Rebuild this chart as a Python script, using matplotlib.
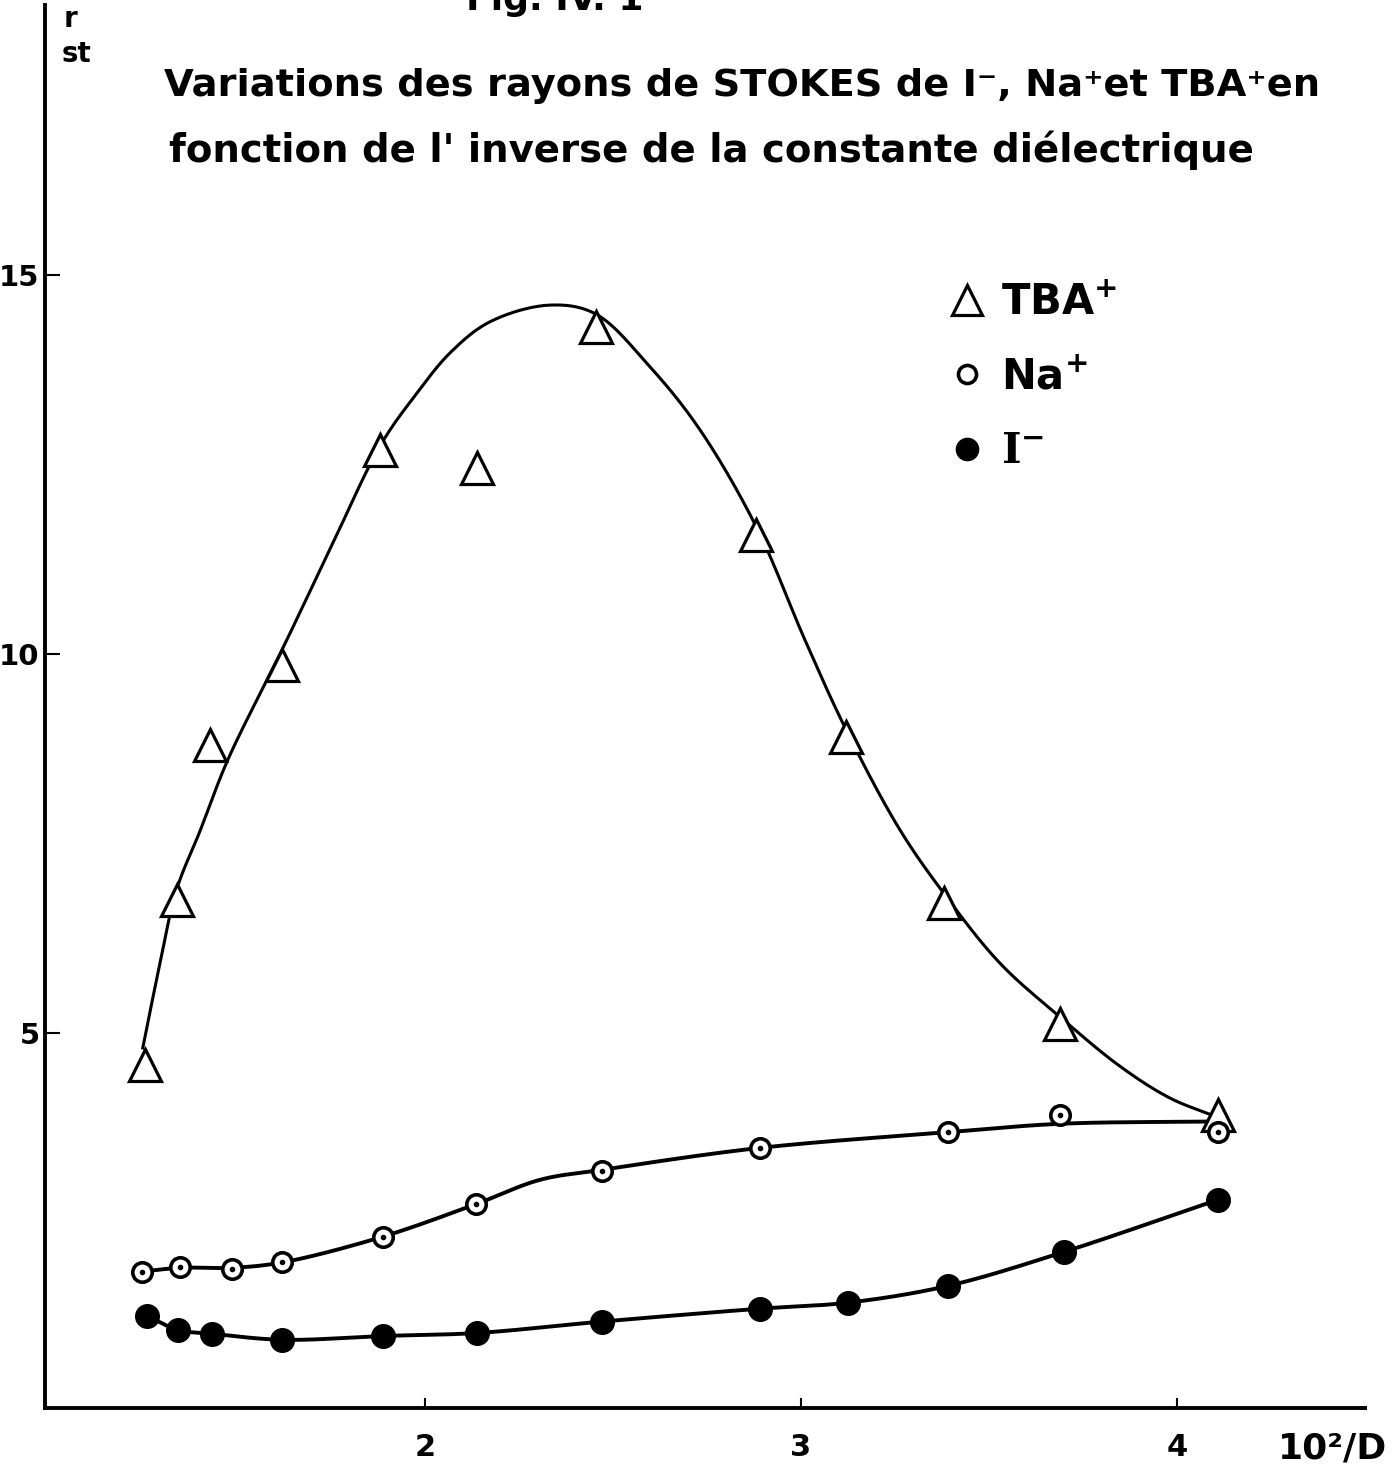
import matplotlib
matplotlib.use("Agg")
from matplotlib import pyplot as plt
import numpy as np

# measured points, x = 10^2/D, y = r_st
tba_x = [1.255, 1.34, 1.43, 1.62, 1.88, 2.14, 2.455, 2.88, 3.12, 3.38, 3.69, 4.11]
tba_y = [4.58, 6.75, 8.80, 9.85, 12.69, 12.45, 14.31, 11.57, 8.90, 6.71, 5.12, 3.92]

na_x = [1.247, 1.35, 1.487, 1.62, 1.89, 2.136, 2.47, 2.89, 3.39, 3.69, 4.11]
na_y = [1.85, 1.91, 1.89, 1.97, 2.31, 2.74, 3.18, 3.48, 3.69, 3.92, 3.69]

i_x = [1.26, 1.343, 1.434, 1.62, 1.89, 2.14, 2.47, 2.89, 3.125, 3.39, 3.70, 4.11]
i_y = [1.27, 1.08, 1.03, 0.95, 1.00, 1.04, 1.19, 1.36, 1.44, 1.66, 2.11, 2.80]

# hand drawn curves
tba_curve_x = [1.250, 1.295, 1.340, 1.402, 1.476, 1.620, 1.747, 1.883, 1.976, 2.069, 2.173,
               2.330, 2.452, 2.598, 2.731, 2.883, 3.011, 3.120, 3.263, 3.383, 3.529, 3.691,
               3.848, 3.981, 4.106]
tba_curve_y = [4.80, 5.90, 6.89, 7.66, 8.60, 10.05, 11.37, 12.76, 13.42, 13.98, 14.38,
               14.60, 14.49, 13.79, 12.96, 11.66, 10.18, 9.00, 7.68, 6.82, 5.92, 5.20,
               4.56, 4.14, 3.89]

na_curve_x = [1.247, 1.351, 1.487, 1.620, 1.888, 2.136, 2.306, 2.468, 2.888, 3.394, 3.691, 4.106]
na_curve_y = [1.85, 1.90, 1.90, 1.97, 2.31, 2.74, 3.06, 3.19, 3.48, 3.69, 3.80, 3.83]

xticks = [2, 3, 4]
yticks = [5, 10, 15]


def smooth(ax, xs, ys, n=30, alpha=0.5):
    # centripetal catmull-rom, done in screen space so both axes count the same
    P = ax.transData.transform(np.column_stack([xs, ys]))
    P = np.vstack([2 * P[0] - P[1], P, 2 * P[-1] - P[-2]])
    out = []
    for i in range(1, len(P) - 2):
        p0, p1, p2, p3 = P[i - 1], P[i], P[i + 1], P[i + 2]
        t0 = 0.0
        t1 = t0 + np.linalg.norm(p1 - p0) ** alpha
        t2 = t1 + np.linalg.norm(p2 - p1) ** alpha
        t3 = t2 + np.linalg.norm(p3 - p2) ** alpha
        t = np.linspace(t1, t2, n, endpoint=False)[:, None]
        a1 = (t1 - t) / (t1 - t0) * p0 + (t - t0) / (t1 - t0) * p1
        a2 = (t2 - t) / (t2 - t1) * p1 + (t - t1) / (t2 - t1) * p2
        a3 = (t3 - t) / (t3 - t2) * p2 + (t - t2) / (t3 - t2) * p3
        b1 = (t2 - t) / (t2 - t0) * a1 + (t - t0) / (t2 - t0) * a2
        b2 = (t3 - t) / (t3 - t1) * a2 + (t - t1) / (t3 - t1) * a3
        out.append((t2 - t) / (t2 - t1) * b1 + (t - t1) / (t2 - t1) * b2)
    out.append(P[-2][None])
    c = ax.transData.inverted().transform(np.vstack(out))
    return c[:, 0], c[:, 1]


W, H = 1399, 1472
fig = plt.figure(figsize=(W / 100, H / 100), dpi=100)
plt.rcParams['mathtext.fontset'] = 'dejavusans'
ax = fig.add_axes([45 / W, 1 - 1408 / H, 1320 / W, 1403 / H])
ax.set_xlim(0.99, 4.5)
ax.set_ylim(0.05, 18.56)

for s in ['top', 'right']:
    ax.spines[s].set_visible(False)
for s in ['left', 'bottom']:
    ax.spines[s].set_linewidth(2.8)

ax.set_xticks(xticks)
ax.set_yticks(yticks)
ax.tick_params(axis='y', direction='in', length=11, width=1.5, pad=4, labelsize=21)
ax.tick_params(axis='x', direction='in', length=7, width=1.5, pad=18, labelsize=22)
for lab in ax.get_xticklabels() + ax.get_yticklabels():
    lab.set_fontweight('bold')

cx, cy = smooth(ax, tba_curve_x, tba_curve_y)
ax.plot(cx, cy, color='black', lw=2.2, zorder=2)
cx, cy = smooth(ax, na_curve_x, na_curve_y)
ax.plot(cx, cy, color='black', lw=2.8, zorder=2)
cx, cy = smooth(ax, i_x, i_y)
ax.plot(cx, cy, color='black', lw=2.8, zorder=2)

ax.plot(tba_x, tba_y, ls='none', marker='^', ms=23, mfc='white', mec='black', mew=2.3, zorder=3)
ax.plot(na_x, na_y, ls='none', marker='o', ms=14, mfc='white', mec='black', mew=2.6, zorder=3)
ax.plot(na_x, na_y, ls='none', marker='o', ms=3, color='black', zorder=4)
ax.plot(i_x, i_y, ls='none', marker='o', ms=17, color='black', zorder=3)

# legend
h1, = ax.plot([], [], ls='none', marker='^', ms=21, mfc='white', mec='black', mew=2.3)
h2, = ax.plot([], [], ls='none', marker='o', ms=13, mfc='white', mec='black', mew=2.6)
h3, = ax.plot([], [], ls='none', marker='o', ms=16, color='black')
leg = ax.legend([h1, h2, h3], [r'$\mathbf{TBA^{+}}$', r'$\mathbf{Na^{+}}$', r'$\mathbf{I^{-}}$'],
                loc='upper left', bbox_to_anchor=(0.683, 0.803), frameon=False,
                handlelength=1.0, handletextpad=0.3, labelspacing=0.78,
                borderpad=0, borderaxespad=0, prop={'weight': 'bold', 'size': 30})
leg.get_texts()[2].set_math_fontfamily('dejavuserif')

fig.text(555 / W, 1 - 10 / H, 'Fig. IV. 1', ha='center', va='baseline',
         fontsize=26, fontweight='bold')
fig.text(742 / W, 1 - 96 / H, 'Variations des rayons de STOKES de I⁻, Na⁺et TBA⁺en',
         ha='center', va='baseline', fontsize=27.6, fontweight='bold')
fig.text(711 / W, 1 - 162 / H, "fonction de l' inverse de la constante diélectrique",
         ha='center', va='baseline', fontsize=27.8, fontweight='bold')
fig.text(64 / W, 1 - 27 / H, 'r', ha='left', va='baseline', fontsize=20, fontweight='bold')
fig.text(62 / W, 1 - 62 / H, 'st', ha='left', va='baseline', fontsize=20, fontweight='bold')
fig.text(1333 / W, 1 - 1458 / H, '10²/D', ha='center', va='baseline',
         fontsize=26, fontweight='bold')

fig.savefig('out.png', dpi=100)
